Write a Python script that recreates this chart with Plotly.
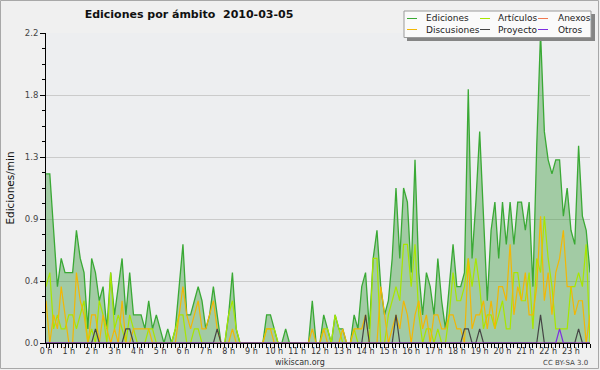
import plotly.graph_objects as go

W, H = 600, 370
ML, MR, MT, MB = 46, 10, 33, 27
PW, PH = W - ML - MR, H - MT - MB

# ten-minute bins over the day (x in hours)
bin_minutes = list(range(0, 1440, 10))
x_hours = [m / 60 for m in bin_minutes]

hour_ticks = list(range(24))
hour_labels = [f"{h} h" for h in hour_ticks]

y_ticks = [0.0, 0.44, 0.88, 1.32, 1.76, 2.2]
y_labels = ["0.0", "0.4", "0.9", "1.3", "1.8", "2.2"]

# edits per minute, one value per 10-minute bin (6 per hour)
ediciones = [
    1.2, 1.2, 0.8, 0.4, 0.6, 0.5,
    0.5, 0.5, 0.8, 0.6, 0.5, 0.1,
    0.6, 0.5, 0.3, 0.4, 0.1, 0.5,
    0.2, 0.4, 0.6, 0.2, 0.5, 0.2,
    0.2, 0.2, 0.1, 0.3, 0.1, 0.2,
    0.1, 0.0, 0.1, 0.0, 0.1, 0.4,
    0.7, 0.2, 0.2, 0.3, 0.4, 0.3,
    0.1, 0.2, 0.4, 0.2, 0.0, 0.0,
    0.2, 0.5, 0.1, 0.0, 0.0, 0.0,
    0.0, 0.0, 0.0, 0.0, 0.2, 0.2,
    0.1, 0.0, 0.0, 0.1, 0.0, 0.0,
    0.0, 0.0, 0.0, 0.0, 0.3, 0.0,
    0.0, 0.2, 0.1, 0.0, 0.2, 0.1,
    0.1, 0.0, 0.0, 0.2, 0.1, 0.4,
    0.5, 0.1, 0.6, 0.8, 0.4, 0.2,
    0.3, 0.6, 1.1, 0.6, 1.1, 1.0,
    0.5, 1.3, 0.5, 0.2, 0.5, 0.4,
    0.2, 0.6, 0.3, 0.1, 0.4, 0.7,
    0.4, 0.4, 0.5, 1.8, 0.6, 1.0,
    1.5, 0.9, 0.3, 0.8, 1.0, 0.6,
    1.0, 0.7, 1.0, 0.7, 1.0, 1.0,
    0.8, 1.0, 0.4, 1.4, 2.2, 1.5,
    1.3, 1.2, 1.3, 1.3, 0.9, 1.1,
    0.8, 0.7, 1.4, 0.9, 0.8, 0.5,
]
articulos = [
    0.4, 0.5, 0.1, 0.2, 0.1, 0.1,
    0.2, 0.2, 0.1, 0.2, 0.3, 0.0,
    0.1, 0.0, 0.3, 0.2, 0.0, 0.5,
    0.1, 0.2, 0.1, 0.0, 0.2, 0.1,
    0.0, 0.0, 0.0, 0.1, 0.1, 0.0,
    0.0, 0.0, 0.0, 0.0, 0.1, 0.2,
    0.2, 0.0, 0.0, 0.1, 0.1, 0.0,
    0.0, 0.0, 0.0, 0.0, 0.0, 0.0,
    0.2, 0.3, 0.1, 0.0, 0.0, 0.0,
    0.0, 0.0, 0.0, 0.0, 0.1, 0.1,
    0.1, 0.0, 0.0, 0.0, 0.0, 0.0,
    0.0, 0.0, 0.0, 0.0, 0.0, 0.0,
    0.0, 0.1, 0.1, 0.0, 0.2, 0.1,
    0.0, 0.0, 0.0, 0.1, 0.0, 0.0,
    0.0, 0.0, 0.6, 0.6, 0.0, 0.0,
    0.2, 0.3, 0.4, 0.3, 0.7, 0.7,
    0.4, 0.7, 0.2, 0.0, 0.1, 0.1,
    0.0, 0.1, 0.0, 0.0, 0.2, 0.5,
    0.3, 0.3, 0.4, 0.6, 0.4, 0.6,
    0.4, 0.1, 0.2, 0.2, 0.1, 0.2,
    0.3, 0.1, 0.1, 0.5, 0.5, 0.3,
    0.3, 0.5, 0.1, 0.6, 0.5, 0.9,
    0.6, 0.4, 0.1, 0.1, 0.1, 0.1,
    0.4, 0.4, 0.5, 0.4, 0.7, 0.0,
]
anexos = [
    0.0, 0.0, 0.0, 0.0, 0.0, 0.0, 0.0, 0.0, 0.0, 0.0, 0.0, 0.0,
    0.0, 0.0, 0.0, 0.0, 0.0, 0.0, 0.0, 0.0, 0.0, 0.0, 0.0, 0.0,
    0.0, 0.0, 0.0, 0.0, 0.0, 0.0, 0.0, 0.0, 0.0, 0.0, 0.0, 0.0,
    0.0, 0.0, 0.0, 0.0, 0.0, 0.0, 0.0, 0.0, 0.0, 0.0, 0.0, 0.0,
    0.0, 0.0, 0.0, 0.0, 0.0, 0.0, 0.0, 0.0, 0.0, 0.0, 0.0, 0.0,
    0.0, 0.0, 0.0, 0.0, 0.0, 0.0, 0.0, 0.0, 0.0, 0.0, 0.0, 0.0,
    0.0, 0.0, 0.0, 0.0, 0.0, 0.0, 0.0, 0.0, 0.0, 0.0, 0.0, 0.0,
    0.0, 0.0, 0.0, 0.0, 0.0, 0.0, 0.0, 0.0, 0.0, 0.0, 0.0, 0.0,
    0.0, 0.0, 0.0, 0.0, 0.0, 0.0, 0.0, 0.0, 0.0, 0.0, 0.0, 0.0,
    0.0, 0.0, 0.0, 0.0, 0.0, 0.0, 0.0, 0.0, 0.0, 0.0, 0.0, 0.0,
    0.0, 0.0, 0.0, 0.0, 0.0, 0.0, 0.0, 0.0, 0.0, 0.0, 0.0, 0.0,
    0.0, 0.0, 0.0, 0.0, 0.0, 0.0, 0.0, 0.0, 0.0, 0.0, 0.0, 0.0,
]
discusiones = [
    0.3, 0.0, 0.2, 0.1, 0.4, 0.2,
    0.0, 0.0, 0.5, 0.3, 0.2, 0.0,
    0.2, 0.2, 0.0, 0.2, 0.1, 0.0,
    0.1, 0.0, 0.3, 0.0, 0.0, 0.1,
    0.1, 0.1, 0.1, 0.1, 0.0, 0.0,
    0.0, 0.0, 0.0, 0.0, 0.0, 0.2,
    0.4, 0.2, 0.1, 0.2, 0.3, 0.1,
    0.1, 0.2, 0.3, 0.1, 0.0, 0.0,
    0.0, 0.1, 0.0, 0.0, 0.0, 0.0,
    0.0, 0.0, 0.0, 0.0, 0.1, 0.1,
    0.0, 0.0, 0.0, 0.0, 0.0, 0.0,
    0.0, 0.0, 0.0, 0.0, 0.1, 0.0,
    0.0, 0.1, 0.0, 0.0, 0.0, 0.0,
    0.1, 0.0, 0.0, 0.1, 0.1, 0.1,
    0.2, 0.0, 0.0, 0.0, 0.4, 0.2,
    0.0, 0.1, 0.2, 0.1, 0.3, 0.2,
    0.0, 0.2, 0.3, 0.1, 0.2, 0.0,
    0.2, 0.2, 0.1, 0.1, 0.2, 0.2,
    0.1, 0.1, 0.0, 0.6, 0.1, 0.2,
    0.2, 0.3, 0.1, 0.3, 0.1, 0.4,
    0.4, 0.3, 0.7, 0.2, 0.4, 0.3,
    0.5, 0.2, 0.2, 0.4, 0.9, 0.3,
    0.5, 0.2, 0.5, 0.6, 0.8, 0.4,
    0.4, 0.2, 0.3, 0.3, 0.0, 0.2,
]
proyecto = [
    0.0, 0.0, 0.0, 0.0, 0.0, 0.0,
    0.0, 0.0, 0.0, 0.0, 0.0, 0.0,
    0.0, 0.1, 0.0, 0.0, 0.0, 0.0,
    0.0, 0.0, 0.0, 0.1, 0.1, 0.0,
    0.0, 0.0, 0.0, 0.0, 0.0, 0.0,
    0.0, 0.0, 0.0, 0.0, 0.0, 0.0,
    0.0, 0.0, 0.0, 0.0, 0.0, 0.0,
    0.0, 0.0, 0.0, 0.1, 0.0, 0.0,
    0.0, 0.0, 0.0, 0.0, 0.0, 0.0,
    0.0, 0.0, 0.0, 0.0, 0.0, 0.0,
    0.0, 0.0, 0.0, 0.0, 0.0, 0.0,
    0.0, 0.0, 0.0, 0.0, 0.0, 0.0,
    0.0, 0.0, 0.0, 0.0, 0.0, 0.0,
    0.0, 0.0, 0.0, 0.0, 0.0, 0.0,
    0.2, 0.0, 0.0, 0.0, 0.0, 0.0,
    0.0, 0.0, 0.2, 0.0, 0.0, 0.0,
    0.0, 0.0, 0.0, 0.0, 0.0, 0.0,
    0.0, 0.0, 0.0, 0.0, 0.0, 0.0,
    0.0, 0.0, 0.1, 0.1, 0.0, 0.0,
    0.1, 0.0, 0.0, 0.0, 0.0, 0.0,
    0.0, 0.0, 0.0, 0.0, 0.0, 0.0,
    0.0, 0.0, 0.0, 0.0, 0.2, 0.0,
    0.0, 0.0, 0.0, 0.0, 0.0, 0.0,
    0.0, 0.0, 0.1, 0.0, 0.0, 0.0,
]
otros = [
    0.0, 0.0, 0.0, 0.0, 0.0, 0.0, 0.0, 0.0, 0.0, 0.0, 0.0, 0.0,
    0.0, 0.0, 0.0, 0.0, 0.0, 0.0, 0.0, 0.0, 0.0, 0.0, 0.0, 0.0,
    0.0, 0.0, 0.0, 0.0, 0.0, 0.0, 0.0, 0.0, 0.0, 0.0, 0.0, 0.0,
    0.0, 0.0, 0.0, 0.0, 0.0, 0.0, 0.0, 0.0, 0.0, 0.0, 0.0, 0.0,
    0.0, 0.0, 0.0, 0.0, 0.0, 0.0, 0.0, 0.0, 0.0, 0.0, 0.0, 0.0,
    0.0, 0.0, 0.0, 0.0, 0.0, 0.0, 0.0, 0.0, 0.0, 0.0, 0.0, 0.0,
    0.0, 0.0, 0.0, 0.0, 0.0, 0.0, 0.0, 0.0, 0.0, 0.0, 0.0, 0.0,
    0.0, 0.0, 0.0, 0.0, 0.0, 0.0, 0.0, 0.0, 0.0, 0.0, 0.0, 0.0,
    0.0, 0.0, 0.0, 0.0, 0.0, 0.0, 0.0, 0.0, 0.0, 0.0, 0.0, 0.0,
    0.0, 0.0, 0.0, 0.0, 0.0, 0.0, 0.0, 0.0, 0.0, 0.0, 0.0, 0.0,
    0.0, 0.0, 0.0, 0.0, 0.0, 0.0, 0.0, 0.0, 0.0, 0.0, 0.0, 0.0,
    0.0, 0.0, 0.0, 0.1, 0.0, 0.0, 0.0, 0.0, 0.0, 0.0, 0.0, 0.0,
]

series_names = ["Ediciones", "Artículos", "Anexos", "Discusiones", "Proyecto", "Otros"]
series_colors = {
    "Ediciones": "#3aa935",
    "Artículos": "#a8e600",
    "Anexos": "#f07850",
    "Discusiones": "#f2b705",
    "Proyecto": "#454545",
    "Otros": "#7d2ee0",
}
series_values = {
    "Ediciones": ediciones,
    "Artículos": articulos,
    "Anexos": anexos,
    "Discusiones": discusiones,
    "Proyecto": proyecto,
    "Otros": otros,
}

FONT = "DejaVu Sans"

fig = go.Figure()
fig.add_trace(go.Scatter(
    x=x_hours, y=ediciones, name="Ediciones", mode="lines",
    line=dict(color=series_colors["Ediciones"], width=1.3),
    fill="tozeroy", fillcolor="rgba(70,160,70,0.45)", showlegend=False,
))
for name in ["Artículos", "Anexos", "Discusiones", "Proyecto", "Otros"]:
    fig.add_trace(go.Scatter(
        x=x_hours, y=series_values[name], name=name, mode="lines",
        line=dict(color=series_colors[name], width=1.2), showlegend=False,
    ))


def fx(px):
    return (px - ML) / PW


def fy(py):
    return (H - MB - py) / PH


shapes = []
annotations = []

# outer frame
shapes.append(dict(type="rect", xref="paper", yref="paper",
                   x0=fx(0.5), x1=fx(598.5), y0=fy(0.5), y1=fy(368.5),
                   line=dict(color="#a8a8a8", width=1), fillcolor="rgba(0,0,0,0)",
                   layer="above"))

# legend (drawn box with shadow)
shapes.append(dict(type="rect", xref="paper", yref="paper",
                   x0=fx(407), x1=fx(595), y0=fy(14), y1=fy(41),
                   line=dict(width=0), fillcolor="#858585", layer="above"))
shapes.append(dict(type="rect", xref="paper", yref="paper",
                   x0=fx(404), x1=fx(591), y0=fy(11), y1=fy(37.5),
                   line=dict(color="#9a9a9a", width=1), fillcolor="#fafafa", layer="above"))
col_line_x = [(407, 417), (480, 490), (538, 548)]
col_text_x = [424, 496, 556]
row_y = [18.5, 29.5]
for k, name in enumerate(series_names):
    r, c = divmod(k, 3)
    x0, x1 = col_line_x[c]
    shapes.append(dict(type="line", xref="paper", yref="paper",
                       x0=fx(x0), x1=fx(x1), y0=fy(row_y[r]), y1=fy(row_y[r]),
                       line=dict(color=series_colors[name], width=1), layer="above"))
    annotations.append(dict(text=name, xref="paper", yref="paper",
                            x=fx(col_text_x[c]), y=fy(row_y[r]),
                            xanchor="left", yanchor="middle", showarrow=False,
                            font=dict(family=FONT, size=9, color="#222222")))

# footer
annotations.append(dict(text="wikiscan.org", xref="paper", yref="paper",
                        x=fx(300), y=fy(362), xanchor="center", yanchor="middle",
                        showarrow=False, font=dict(family=FONT, size=8, color="#333333")))
annotations.append(dict(text="CC BY-SA 3.0", xref="paper", yref="paper",
                        x=fx(590), y=fy(362.5), xanchor="right", yanchor="middle",
                        showarrow=False, font=dict(family=FONT, size=7, color="#444444")))

fig.update_layout(
    width=W, height=H,
    margin=dict(l=ML, r=MR, t=MT, b=MB, autoexpand=False),
    paper_bgcolor="#f0f0f0",
    plot_bgcolor="#edeef0",
    title=dict(text="<b>Ediciones por ámbito\u00a0\u00a02010-03-05</b>",
               x=189 / W, xanchor="center", xref="container",
               y=1 - 14 / H, yanchor="middle", yref="container",
               font=dict(family=FONT, size=11, color="#111111")),
    showlegend=False,
    shapes=shapes,
    annotations=annotations,
    xaxis=dict(
        range=[0, x_hours[-1]],
        tickmode="array", tickvals=hour_ticks, ticktext=hour_labels,
        ticks="outside", ticklen=4, tickcolor="black", tickwidth=1,
        minor=dict(tickmode="linear", tick0=0, dtick=1 / 6, ticks="outside",
                   ticklen=4, tickcolor="black", tickwidth=1),
        showline=True, linecolor="black", linewidth=1,
        showgrid=False, zeroline=False,
        ticklabelstandoff=-4,
        tickfont=dict(family=FONT, size=8, color="#333333"),
        fixedrange=True,
    ),
    yaxis=dict(
        range=[0, 2.2],
        tickmode="array", tickvals=y_ticks, ticktext=y_labels,
        ticks="outside", ticklen=5, tickcolor="black", tickwidth=1,
        minor=dict(tickmode="linear", tick0=0, dtick=0.11, ticks="outside",
                   ticklen=3, tickcolor="black", tickwidth=1, showgrid=False),
        showline=True, linecolor="black", linewidth=1,
        showgrid=True, gridcolor="#cbcbcb", gridwidth=1,
        zeroline=False,
        tickfont=dict(family=FONT, size=8.5, color="#444444"),
        title=dict(text="Ediciones/min", standoff=8,
                   font=dict(family=FONT, size=10.5, color="#111111")),
        fixedrange=True,
    ),
)

fig.write_html(
    "out.html",
    config={"displayModeBar": False},
    post_script="document.body.style.margin='0';document.body.style.overflow='hidden';",
)
